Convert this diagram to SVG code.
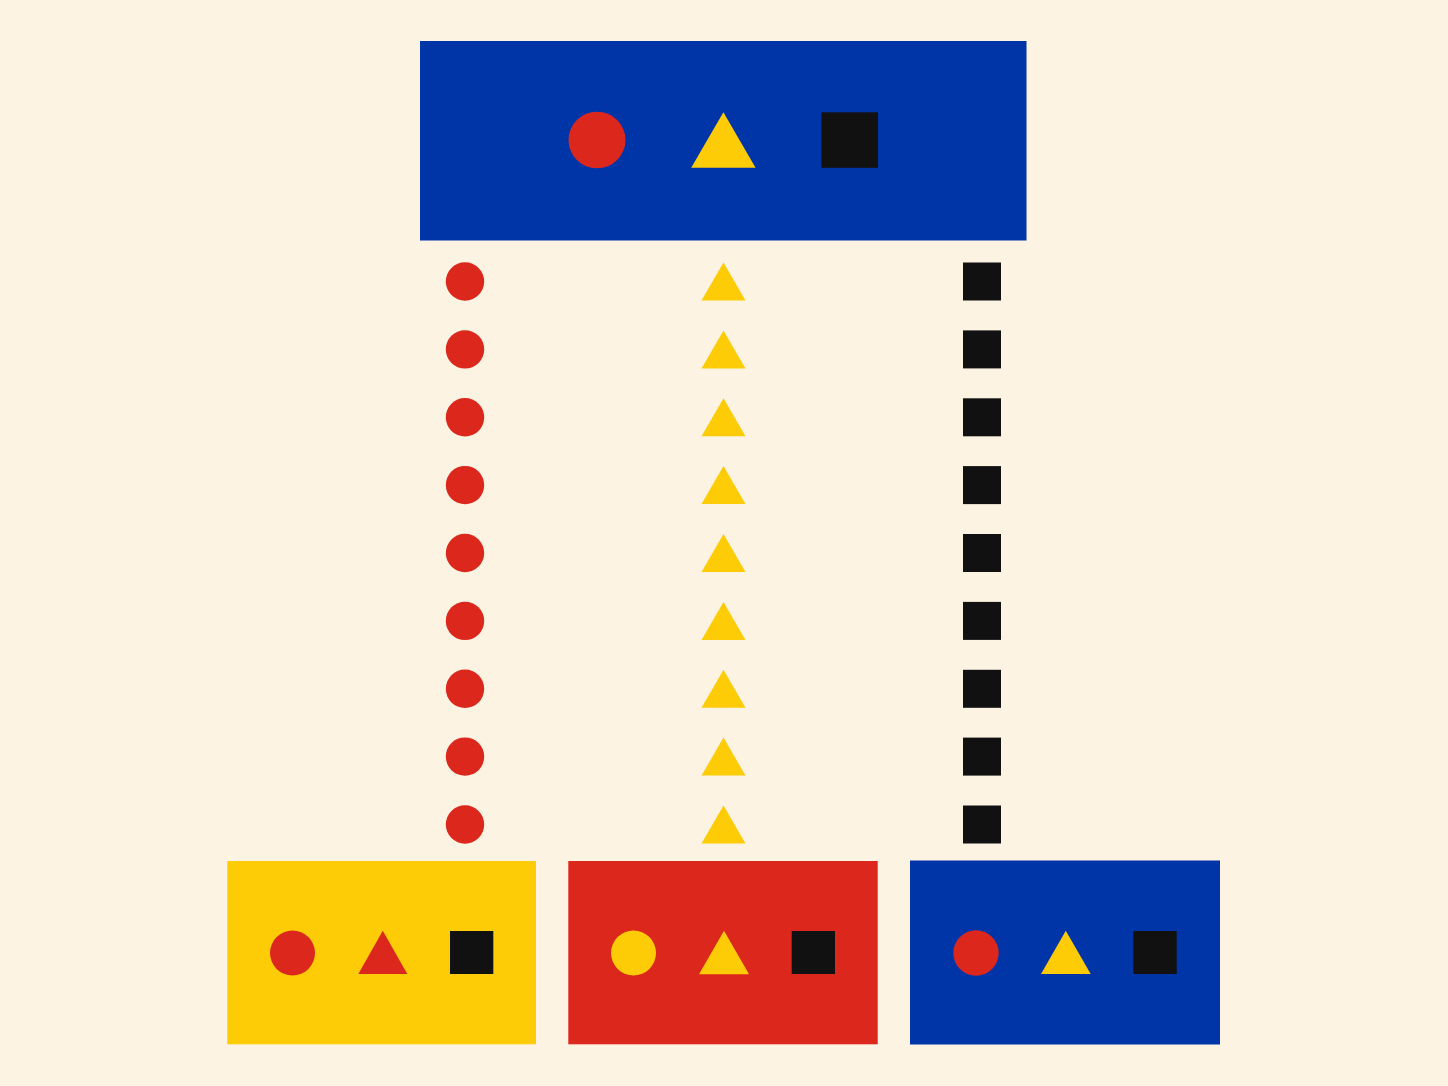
<svg xmlns="http://www.w3.org/2000/svg" xmlns:xlink="http://www.w3.org/1999/xlink" width="1448" height="1086" viewBox="0 0 1448 1086">
<style>
.bg{fill:#FCF3E2}
.blue{fill:#0035A8}
.red{fill:#DC271D}
.yellow{fill:#FECB07}
.black{fill:#111111}
</style>
<defs>
<circle id="dot" cx="0" cy="0" r="19.2" class="red"/>
<polygon id="tri" points="0,-19 22,19 -22,19" class="yellow"/>
<rect id="sq" x="-19" y="-19" width="38" height="38" class="black"/>
</defs>
<rect class="bg" x="0" y="0" width="1448" height="1086"/>

<g id="connectors">
<g id="conn-circles">
<use href="#dot" x="465" y="281.5"/>
<use href="#dot" x="465" y="349.4"/>
<use href="#dot" x="465" y="417.3"/>
<use href="#dot" x="465" y="485.1"/>
<use href="#dot" x="465" y="553"/>
<use href="#dot" x="465" y="620.9"/>
<use href="#dot" x="465" y="688.8"/>
<use href="#dot" x="465" y="756.6"/>
<use href="#dot" x="465" y="824.5"/>
</g>
<g id="conn-triangles">
<use href="#tri" x="723.5" y="281.5"/>
<use href="#tri" x="723.5" y="349.4"/>
<use href="#tri" x="723.5" y="417.3"/>
<use href="#tri" x="723.5" y="485.1"/>
<use href="#tri" x="723.5" y="553"/>
<use href="#tri" x="723.5" y="620.9"/>
<use href="#tri" x="723.5" y="688.8"/>
<use href="#tri" x="723.5" y="756.6"/>
<use href="#tri" x="723.5" y="824.5"/>
</g>
<g id="conn-squares">
<use href="#sq" x="982" y="281.5"/>
<use href="#sq" x="982" y="349.4"/>
<use href="#sq" x="982" y="417.3"/>
<use href="#sq" x="982" y="485.1"/>
<use href="#sq" x="982" y="553"/>
<use href="#sq" x="982" y="620.9"/>
<use href="#sq" x="982" y="688.8"/>
<use href="#sq" x="982" y="756.6"/>
<use href="#sq" x="982" y="824.5"/>
</g>
</g>

<g id="node-top">
<rect class="blue" x="420" y="41" width="606.5" height="199.5"/>
<ellipse class="red" cx="597" cy="140" rx="28.5" ry="28.3"/>
<polygon class="yellow" points="723.4,112.3 755.6,167.8 691.2,167.8"/>
<rect class="black" x="821.4" y="112.3" width="56.6" height="55.5"/>
</g>

<g id="node-yellow">
<rect class="yellow" x="227.3" y="861" width="308.7" height="183.3"/>
<circle class="red" cx="292.5" cy="953" r="22.5"/>
<polygon class="red" points="382.8,930.7 407.3,974 358.3,974"/>
<rect class="black" x="450" y="931" width="43.3" height="43"/>
</g>

<g id="node-red">
<rect class="red" x="568.3" y="861" width="309.4" height="183.3"/>
<circle class="yellow" cx="633.5" cy="953" r="22.5"/>
<polygon class="yellow" points="724,930.7 749,974.3 699,974.3"/>
<rect class="black" x="791.7" y="931" width="43.3" height="43"/>
</g>

<g id="node-blue">
<rect class="blue" x="910" y="860.5" width="310" height="184"/>
<circle class="red" cx="976" cy="953" r="22.7"/>
<polygon class="yellow" points="1065.8,930.7 1090.7,974 1041,974"/>
<rect class="black" x="1133.3" y="931" width="43.4" height="43"/>
</g>
</svg>
